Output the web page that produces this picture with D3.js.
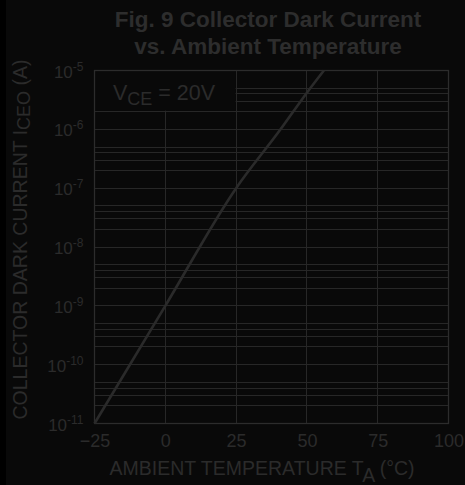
<!DOCTYPE html>
<html>
<head>
<meta charset="utf-8">
<script src="https://cdn.jsdelivr.net/npm/d3@7"></script>
<style>
  html, body { margin: 0; padding: 0; background: #000; }
  svg { display: block; font-family: "Liberation Sans", Arial, Helvetica, sans-serif; }
</style>
</head>
<body>
<script>
// ---- data ----
const tempsC   = [-25, 0, 25, 40.7, 50, 56];
const iceoA    = [1e-11, 1e-9, 1e-7, 1e-6, 4.2e-6, 1e-5];
const xTicks   = [-25, 0, 25, 50, 75, 100];
const yDecadeExponents = [-5, -6, -7, -8, -9, -10, -11];
const minorMultiples = [2, 3, 4, 5];
const titleLines = ["Fig. 9 Collector Dark Current", "vs. Ambient Temperature"];

const W = 465, H = 485;
const bg = "#090909", ink = "#2b2b2b", grid = "#272727";

const svg = d3.select("body").append("svg").attr("width", W).attr("height", H);
svg.append("rect").attr("x", 6).attr("y", 0).attr("width", W - 6).attr("height", H).attr("fill", bg);

const x = d3.scaleLinear().domain([-25, 100]).range([94.5, 448.5]);
const y = d3.scaleLog().domain([1e-11, 1e-5]).range([423.5, 70.5]);

// horizontal grid lines
const hLines = [];
yDecadeExponents.forEach(e => {
  hLines.push(Math.pow(10, e));
  if (e > -11) minorMultiples.forEach(m => hLines.push(m * Math.pow(10, e - 1)));
});
svg.append("g").selectAll("line").data(hLines).join("line")
  .attr("x1", x(-25)).attr("x2", x(100))
  .attr("y1", d => Math.round(y(d) - 0.5) + 0.5).attr("y2", d => Math.round(y(d) - 0.5) + 0.5)
  .attr("stroke", grid).attr("stroke-width", 1);

// vertical grid lines
svg.append("g").selectAll("line").data(xTicks.slice(1, -1)).join("line")
  .attr("x1", d => Math.round(x(d) - 0.5) + 0.5).attr("x2", d => Math.round(x(d) - 0.5) + 0.5)
  .attr("y1", y(1e-11)).attr("y2", y(1e-5))
  .attr("stroke", grid).attr("stroke-width", 1);

// label box (hides grid in the top-left corner)
svg.append("rect")
  .attr("x", x(-25) + 0.5).attr("y", y(1e-5) + 0.5)
  .attr("width", x(25) - x(-25) - 1).attr("height", y(2e-6) - y(1e-5) - 1.5)
  .attr("fill", bg);

// frame
svg.append("rect")
  .attr("x", x(-25)).attr("y", y(1e-5))
  .attr("width", x(100) - x(-25)).attr("height", y(1e-11) - y(1e-5))
  .attr("fill", "none").attr("stroke", "#2c2c2c").attr("stroke-width", 1.3);

// curve
const pts = tempsC.map((t, i) => [t, iceoA[i]]);
svg.append("path").datum(pts)
  .attr("d", d3.line().x(d => x(d[0])).y(d => y(d[1])).curve(d3.curveMonotoneX))
  .attr("fill", "none").attr("stroke", "#2a2a2a").attr("stroke-width", 2.6);

// x axis tick labels
const xAxis = svg.append("g").attr("transform", `translate(0,${y(1e-11)})`)
  .call(d3.axisBottom(x).tickValues(xTicks).tickSize(0).tickPadding(0).tickFormat(d3.format("d")));
xAxis.select(".domain").remove();
xAxis.selectAll("text").attr("fill", ink).attr("font-size", 18).attr("dy", null).attr("y", 23.5)
  .attr("font-family", "Liberation Sans, Arial, sans-serif");

// y axis tick labels with superscripts
const yAxis = svg.append("g").attr("transform", `translate(${x(-25)},0)`)
  .call(d3.axisLeft(y).tickValues(yDecadeExponents.map(e => Math.pow(10, e))).tickSize(0).tickPadding(0).tickFormat(""));
yAxis.select(".domain").remove();
yAxis.selectAll(".tick text").each(function(d) {
  const t = d3.select(this).attr("fill", ink).attr("x", -11).attr("dy", null).attr("y", 6.5)
    .attr("text-anchor", "end").attr("font-family", "Liberation Sans, Arial, sans-serif");
  t.append("tspan").attr("font-size", 17).text("10");
  t.append("tspan").attr("font-size", 12).attr("dy", -7).text(String(Math.round(Math.log10(d))));
});

// title
svg.append("g").selectAll("text").data(titleLines).join("text")
  .attr("x", 268).attr("y", (d, i) => 26.5 + i * 27)
  .attr("text-anchor", "middle").attr("font-weight", "bold").attr("font-size", 22.5)
  .attr("fill", "#2d2d2d").text(d => d);

// V_CE label
const vce = svg.append("text").attr("x", 113).attr("y", 99.5).attr("fill", ink).attr("font-size", 21.5);
vce.append("tspan").text("V");
vce.append("tspan").attr("font-size", 18).attr("dy", 5).text("CE");
vce.append("tspan").attr("dy", -5).text(" = 20V");

// x axis title
const xt = svg.append("text").attr("x", 262).attr("y", 474.5).attr("text-anchor", "middle")
  .attr("fill", ink).attr("font-size", 19.5);
xt.append("tspan").text("AMBIENT TEMPERATURE T");
xt.append("tspan").attr("dy", 7).text("A");
xt.append("tspan").attr("dy", -7).text(" (°C)");

// y axis title
const yt = svg.append("text").attr("transform", "translate(27,239.5) rotate(-90)")
  .attr("text-anchor", "middle").attr("fill", ink).attr("font-size", 19.5);
yt.append("tspan").text("COLLECTOR DARK CURRENT I");
yt.append("tspan").attr("font-size", 18).attr("dy", 3).text("CEO");
yt.append("tspan").attr("dy", -3).text(" (A)");
</script>
</body>
</html>
